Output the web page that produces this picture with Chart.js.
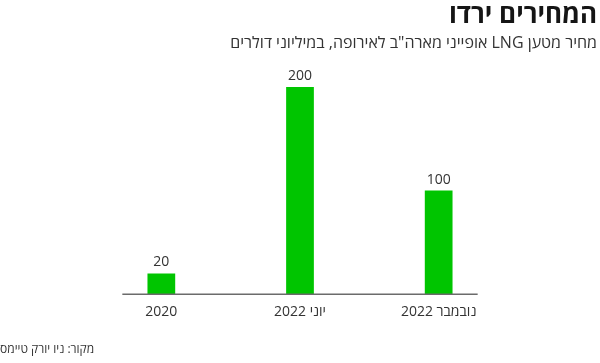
<!DOCTYPE html>
<html lang="he">
<head>
<meta charset="utf-8">
<script src="https://cdn.jsdelivr.net/npm/chart.js@4/dist/chart.umd.min.js"></script>
<style>
  html, body { margin: 0; padding: 0; background: #fff; }
  #wrap { width: 600px; height: 363px; position: relative; }
</style>
</head>
<body>
<div id="wrap"><canvas id="chart" dir="rtl"></canvas></div>
<script>
const title = 'המחירים ירדו';
const subtitle = 'מחיר מטען LNG אופייני מארה"ב לאירופה, במיליוני דולרים';
const source = 'מקור: ניו יורק טיימס';
const labels = ['2020', 'יוני 2022', 'נובמבר 2022'];
const prices = [20, 200, 100];

const FONT = "'Open Sans', 'DejaVu Sans', sans-serif";

// texts, value labels and the short baseline
const extras = {
  id: 'extras',
  afterDatasetsDraw(chart) {
    const { ctx, scales } = chart;
    const x = scales.x, y = scales.y;
    ctx.save();

    // baseline
    const y0 = y.getPixelForValue(0);
    ctx.strokeStyle = '#6b6b6b';
    ctx.lineWidth = 1.5;
    ctx.beginPath();
    ctx.moveTo(x.getPixelForValue(0) - 39, y0);
    ctx.lineTo(x.getPixelForValue(labels.length - 1) + 39, y0);
    ctx.stroke();

    // value labels
    ctx.fillStyle = '#333';
    ctx.font = '14px ' + FONT;
    ctx.textAlign = 'center';
    ctx.textBaseline = 'bottom';
    chart.getDatasetMeta(0).data.forEach((bar, i) => {
      ctx.fillText(String(prices[i]), bar.x, bar.y - 4);
    });

    // title + subtitle
    ctx.textAlign = 'right';
    ctx.textBaseline = 'alphabetic';
    ctx.fillStyle = '#151515';
    ctx.font = 'bold 26px ' + FONT;
    ctx.fillText(title, 597, 23);
    ctx.fillStyle = '#333';
    ctx.font = '16px ' + FONT;
    ctx.fillText(subtitle, 597, 48);

    // source
    ctx.textAlign = 'left';
    ctx.font = '12px ' + FONT;
    ctx.fillText(source, 0, 353);
    ctx.restore();
  }
};

new Chart(document.getElementById('chart'), {
  type: 'bar',
  data: {
    labels: labels,
    datasets: [{
      data: prices,
      backgroundColor: '#00c500',
      barPercentage: 0.2,
      categoryPercentage: 1.0,
    }],
  },
  options: {
    responsive: true,
    maintainAspectRatio: false,
    animation: false,
    layout: { padding: { top: 87, left: 92, right: 92, bottom: 42 } },
    plugins: {
      legend: { display: false },
      tooltip: { enabled: false },
    },
    scales: {
      x: {
        grid: { display: false },
        border: { display: false },
        ticks: { color: '#333', font: { size: 14, family: FONT }, padding: 1 },
      },
      y: {
        display: false,
        min: 0,
        max: 200,
      },
    },
  },
  plugins: [extras],
});
</script>
</body>
</html>
